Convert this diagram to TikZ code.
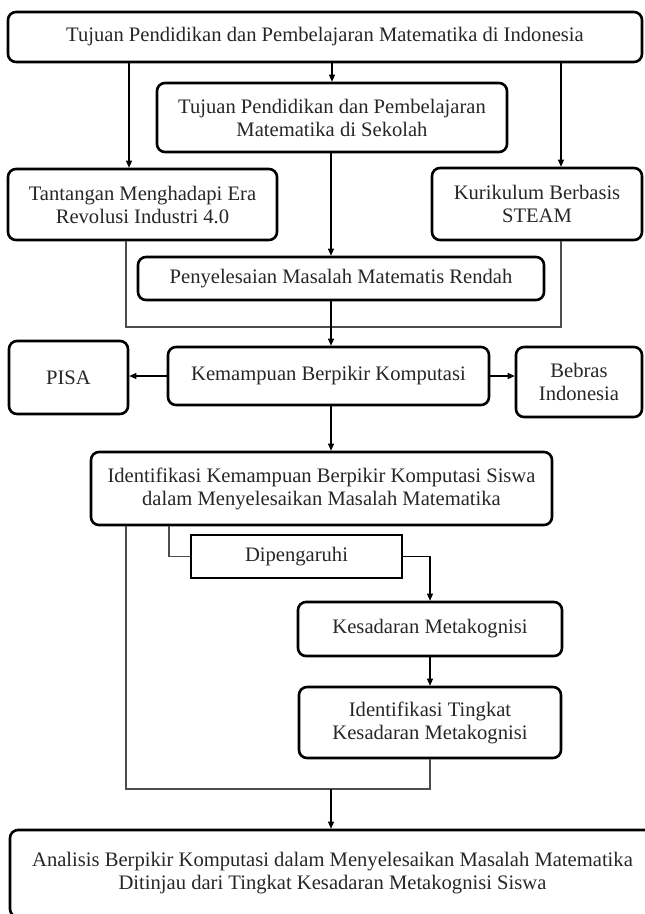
\documentclass[tikz,border=0pt]{standalone}
\usepackage{fontspec}
\setmainfont{Liberation Serif}
\usetikzlibrary{arrows.meta}
\tikzset{
  kotak/.style={draw, line width=2.6pt, rounded corners=8pt, align=center, inner sep=0pt, text=black!85},
  kotaksiku/.style={kotak, sharp corners},
  panah/.style={line width=1.1pt, -{Triangle[length=7pt,width=6pt]}},
  garis/.style={line width=1.1pt, black!70},
}
\begin{document}
\begin{tikzpicture}[x=1pt, y=-1pt, font=\fontsize{20.6}{23}\selectfont]
        \useasboundingbox (0,0) rectangle (645,914);
        \clip (0,0) rectangle (645,914);
        % kotak-kotak
        \node[kotak, minimum width=634, minimum height=50] (tujuan) at (325,37) {Tujuan Pendidikan dan Pembelajaran Matematika di Indonesia};
        \node[kotak, minimum width=350, minimum height=69] (sekolah) at (332,117.5) {Tujuan Pendidikan dan Pembelajaran\\Matematika di Sekolah};
        \node[kotak, minimum width=269, minimum height=71] (tantangan) at (142.5,204.5) {Tantangan Menghadapi Era\\Revolusi Industri 4.0};
        \node[kotak, minimum width=210, minimum height=72] (steam) at (537,204) {Kurikulum Berbasis\\STEAM};
        \node[kotak, minimum width=406, minimum height=43] (rendah) at (341,278.5) {Penyelesaian Masalah Matematis Rendah};
        \node[kotak, minimum width=321, minimum height=58] (kbk) at (328.5,376) {Kemampuan Berpikir Komputasi};
        \node[kotak, minimum width=119, minimum height=73] (pisa) at (68.5,377.5) {PISA};
        \node[kotak, minimum width=126, minimum height=70] (bebras) at (579,382) {Bebras\\Indonesia};
        \node[kotak, minimum width=461, minimum height=73] (identifikasi) at (321.5,488.5) {Identifikasi Kemampuan Berpikir Komputasi Siswa\\dalam Menyelesaikan Masalah Matematika};
        \node[kotaksiku, minimum width=211, minimum height=43] (pengaruh) at (296.5,556.5) {Dipengaruhi};
        \node[kotak, minimum width=264, minimum height=54] (metakognisi) at (430,629) {Kesadaran Metakognisi};
        \node[kotak, minimum width=262, minimum height=71] (tingkat) at (430,722.5) {Identifikasi Tingkat\\Kesadaran Metakognisi};
        \node[kotak, minimum width=645, minimum height=87] (analisis) at (332.5,873.5) {Analisis Berpikir Komputasi dalam Menyelesaikan Masalah Matematika\\Ditinjau dari Tingkat Kesadaran Metakognisi Siswa};
        
        % titik bantu
        \coordinate (xa) at (126,0);
        \coordinate (xl) at (129,0);
        \coordinate (xr) at (561,0);
        \coordinate (cx) at (331,0);
        \coordinate (xd) at (169,0);
        \coordinate (m1) at (331,327);
        \coordinate (m2) at (331,789);
        
        % garis dan panah
        \draw[panah] (tujuan.south -| xl) -- (tantangan.north -| xl);
        \draw[panah] (tujuan.south -| sekolah.north) -- (sekolah.north);
        \draw[panah] (tujuan.south -| xr) -- (steam.north -| xr);
        \draw[panah] (sekolah.south -| cx) -- (rendah.north -| cx);
        \draw[garis] (tantangan.south -| xa) -- (xa |- m1) -- (xr |- m1) -- (steam.south -| xr);
        \draw[panah] (rendah.south -| cx) -- (kbk.north -| cx);
        \draw[panah] (kbk.west) -- (kbk.west -| pisa.east);
        \draw[panah] (kbk.east) -- (kbk.east -| bebras.west);
        \draw[panah] (kbk.south -| cx) -- (identifikasi.north -| cx);
        \draw[garis] (identifikasi.south -| xd) |- (pengaruh.west);
        \draw[panah] (pengaruh.east) -| (metakognisi.north);
        \draw[panah] (metakognisi.south) -- (tingkat.north);
        \draw[garis] (identifikasi.south -| xa) -- (xa |- m2) -- (m2 -| tingkat.south) -- (tingkat.south);
        \draw[panah] (m2) -- (analisis.north -| m2);
        \end{tikzpicture}
\end{document}
